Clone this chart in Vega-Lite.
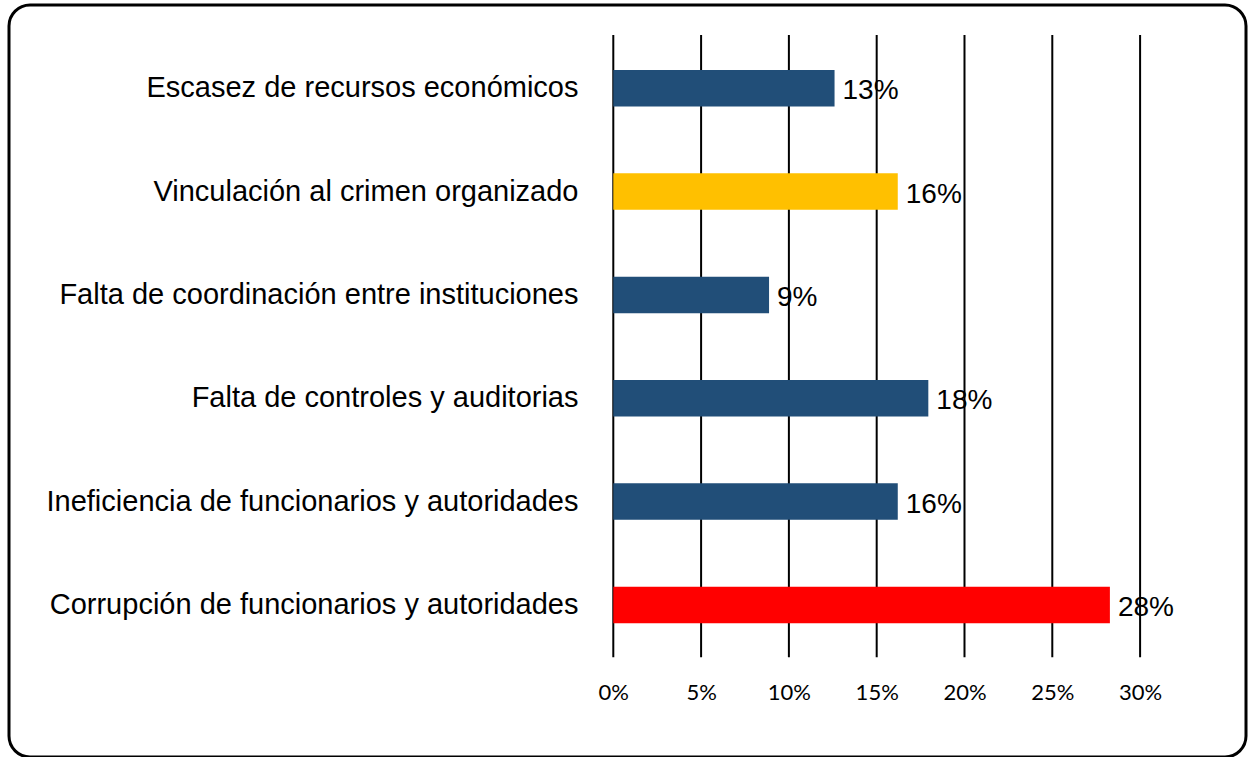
{
  "$schema": "https://vega.github.io/schema/vega-lite/v6.json",
  "width": 1237,
  "height": 752,
  "autosize": {"type": "none"},
  "padding": {"left": 9, "top": 5, "right": 2, "bottom": 0},
  "background": "white",
  "config": {
    "view": {"stroke": "black", "strokeWidth": 3, "cornerRadius": 21, "fill": "white"},
    "axisX": {
      "title": null,
      "format": ".0%",
      "grid": false,
      "domain": false,
      "ticks": false,
      "labelFont": "Lato",
      "labelFontSize": 22,
      "labelColor": "black",
      "labelBaseline": "middle",
      "labelPadding": 0,
      "offset": -64.3,
      "labelFlush": false,
      "labelOverlap": false
    },
    "axisY": {
      "title": null,
      "domain": false,
      "ticks": false,
      "grid": false,
      "labelPadding": -569,
      "labelAlign": "right",
      "labelBaseline": "middle",
      "labelFont": "Liberation Sans",
      "labelFontSize": 29,
      "labelColor": "black",
      "labelLimit": 2000
    }
  },
  "datasets": {
    "causas": [
      {"causa": "Escasez de recursos económicos", "valor": 0.126},
      {"causa": "Vinculación al crimen organizado", "valor": 0.162},
      {"causa": "Falta de coordinación entre instituciones", "valor": 0.0887},
      {"causa": "Falta de controles y auditorias", "valor": 0.1794},
      {"causa": "Ineficiencia de funcionarios y autoridades", "valor": 0.162},
      {"causa": "Corrupción de funcionarios y autoridades", "valor": 0.2828}
    ],
    "marcas": [
      {"t": 0}, {"t": 0.05}, {"t": 0.1}, {"t": 0.15}, {"t": 0.2}, {"t": 0.25}, {"t": 0.3}
    ]
  },
  "layer": [
    {
      "data": {"name": "marcas"},
      "mark": {"type": "rule", "color": "black", "strokeWidth": 2},
      "encoding": {
        "x": {"field": "t", "type": "quantitative", "title": null, "axis": {"values": [0, 0.05, 0.1, 0.15, 0.2, 0.25, 0.3]}},
        "y": {"datum": "Escasez de recursos económicos", "type": "nominal", "bandPosition": -0.959, "title": null},
        "y2": {"datum": "Corrupción de funcionarios y autoridades", "bandPosition": 1.935}
      }
    },
    {
      "data": {"name": "causas"},
      "mark": {"type": "bar"},
      "encoding": {
        "y": {
          "field": "causa",
          "type": "nominal",
          "sort": null,
          "title": null,
          "scale": {
            "domain": [
              "Escasez de recursos económicos",
              "Vinculación al crimen organizado",
              "Falta de coordinación entre instituciones",
              "Falta de controles y auditorias",
              "Ineficiencia de funcionarios y autoridades",
              "Corrupción de funcionarios y autoridades"
            ],
            "paddingInner": 0.647,
            "paddingOuter": 0.962,
            "align": 0.327
          }
        },
        "x": {
          "field": "valor",
          "type": "quantitative",
          "title": null,
          "scale": {"domain": [-0.34413, 0.36031], "nice": false, "zero": false},
          "axis": {"values": [0, 0.05, 0.1, 0.15, 0.2, 0.25, 0.3]}
        },
        "color": {
          "field": "causa",
          "type": "nominal",
          "legend": null,
          "scale": {
            "domain": [
              "Escasez de recursos económicos",
              "Vinculación al crimen organizado",
              "Falta de coordinación entre instituciones",
              "Falta de controles y auditorias",
              "Ineficiencia de funcionarios y autoridades",
              "Corrupción de funcionarios y autoridades"
            ],
            "range": ["#214E78", "#FFC000", "#214E78", "#214E78", "#214E78", "#FF0000"]
          }
        }
      }
    },
    {
      "data": {"name": "causas"},
      "mark": {
        "type": "text",
        "align": "left",
        "baseline": "middle",
        "dx": 8,
        "dy": 3,
        "font": "Liberation Sans",
        "fontSize": 28,
        "color": "black"
      },
      "encoding": {
        "y": {"field": "causa", "type": "nominal", "sort": null, "title": null},
        "x": {"field": "valor", "type": "quantitative", "title": null, "axis": {"values": [0, 0.05, 0.1, 0.15, 0.2, 0.25, 0.3]}},
        "text": {"field": "valor", "type": "quantitative", "format": ".0%"}
      }
    }
  ]
}
